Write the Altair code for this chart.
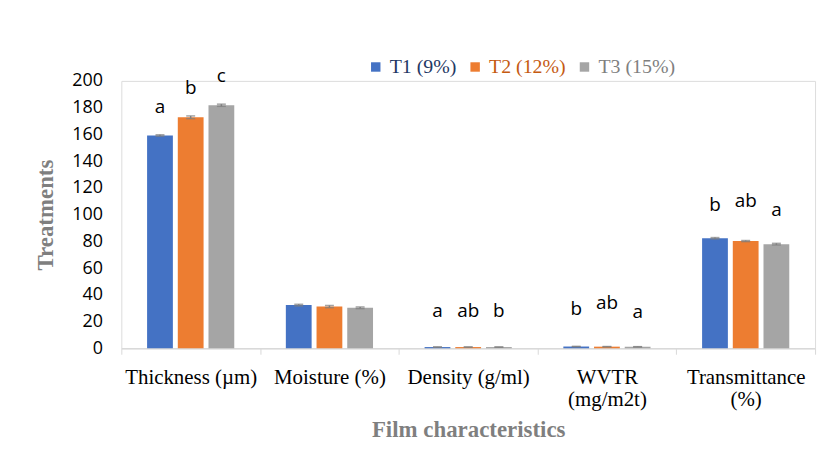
import altair as alt
import pandas as pd

categories = ["Thickness (µm)", "Moisture (%)", "Density (g/ml)", "WVTR\n(mg/m2t)", "Transmittance\n(%)"]
treatments = ["T1 (9%)", "T2 (12%)", "T3 (15%)"]
t1_values = [159.2, 32.3, 0.9, 1.3, 82.3]
t2_values = [172.8, 31.2, 0.9, 1.2, 80.2]
t3_values = [181.8, 30.3, 0.9, 1.1, 77.9]
t1_err = [0.5, 0.6, 0.1, 0.1, 0.5]
t2_err = [1.0, 0.8, 0.1, 0.1, 0.4]
t3_err = [0.8, 0.6, 0.1, 0.1, 0.6]
t1_letters = ["a", "", "a", "b", "b"]
t2_letters = ["b", "", "ab", "ab", "ab"]
t3_letters = ["c", "", "b", "a", "a"]
t1_letter_y = [180.5, 0, 27.5, 29.5, 107.5]
t2_letter_y = [195.0, 0, 27.5, 34.0, 110.0]
t3_letter_y = [203.5, 0, 27.5, 26.8, 103.3]
y_ticks = [0, 20, 40, 60, 80, 100, 120, 140, 160, 180, 200]

colors = ["#4472C4", "#ED7D31", "#A5A5A5"]
legend_text_colors = ["#1F3864", "#C55A11", "#7F7F7F"]

rows = []
for t, vals, errs, lets, ly in zip(
    treatments,
    [t1_values, t2_values, t3_values],
    [t1_err, t2_err, t3_err],
    [t1_letters, t2_letters, t3_letters],
    [t1_letter_y, t2_letter_y, t3_letter_y],
):
    for c, v, e, l, y in zip(categories, vals, errs, lets, ly):
        rows.append({"cat": c, "trt": t, "value": v, "lo": v - e, "hi": v + e,
                     "letter": l, "ly": y})
df = pd.DataFrame(rows)

x_axis = alt.Axis(labelAngle=0, labelExpr="split(datum.label, '\\n')",
                  tickBand="extent")
x_enc = alt.X("cat:N", sort=categories, title="Film characteristics",
              scale=alt.Scale(paddingInner=0, paddingOuter=0), axis=x_axis)
xoff = alt.XOffset("trt:N", sort=treatments,
                   scale=alt.Scale(paddingInner=0.16, paddingOuter=0.84))
y_axis = alt.Axis(values=y_ticks)
y_scale = alt.Scale(domain=[0, 200])

label_color_expr = "datum.index == 0 ? '%s' : (datum.index == 1 ? '%s' : '%s')" % tuple(legend_text_colors)

color_enc = alt.Color(
    "trt:N", sort=treatments,
    scale=alt.Scale(domain=treatments, range=colors),
    legend=alt.Legend(
        title=None, orient="none", direction="horizontal",
        legendX=246, legendY=-24, symbolType="square", symbolSize=90,
        symbolStrokeWidth=0, labelFont="Liberation Serif", labelFontSize=20,
        columnPadding=8, labelOffset=4,
        labelColor=alt.ExprRef(label_color_expr),
    ),
)

base = alt.Chart(df)

bars = base.mark_bar().encode(
    x=x_enc,
    xOffset=xoff,
    y=alt.Y("value:Q", title="Treatments", scale=y_scale, axis=y_axis),
    color=color_enc,
)

err = base.mark_errorbar(ticks={"size": 9, "color": "#7F7F7F"}, color="#7F7F7F",
                         thickness=1.5).encode(
    x=x_enc,
    xOffset=xoff,
    y=alt.Y("lo:Q", title="Treatments", scale=y_scale, axis=y_axis),
    y2="hi:Q",
)

letters = base.transform_filter("datum.letter != ''").mark_text(
    font="Open Sans", fontSize=19, color="#000000", baseline="middle"
).encode(
    x=x_enc,
    xOffset=xoff,
    y=alt.Y("ly:Q", title="Treatments", scale=y_scale, axis=y_axis),
    text="letter:N",
)

chart = alt.layer(bars, err, letters).properties(
    width=698, height=269,
    autosize=alt.AutoSizeParams(type="none"),
    padding={"left": 114, "top": 72, "right": 10, "bottom": 100},
).configure_view(stroke=None).configure(background="#FFFFFF").configure_axisX(
    labelFont="Liberation Serif", labelFontSize=21, labelColor="#000000",
    labelLineHeight=23, labelPadding=12, tickSize=6, tickColor="#D9D9D9",
    domainColor="#D9D9D9", domainWidth=1.5, titleFont="Liberation Serif",
    titleFontSize=23, titleFontWeight="bold", titleColor="#7F7F7F",
    titlePadding=9,
).configure_axisY(
    grid=False, domain=False, ticks=False, labelFont="Open Sans",
    labelFontSize=18, labelColor="#000000", labelPadding=19,
    labelOverlap=False, titleFont="Liberation Serif", titleFontSize=23,
    titleFontWeight="bold", titleColor="#7F7F7F", titlePadding=14,
)

chart.save("out.html", embed_options={"renderer": "svg", "actions": False})
